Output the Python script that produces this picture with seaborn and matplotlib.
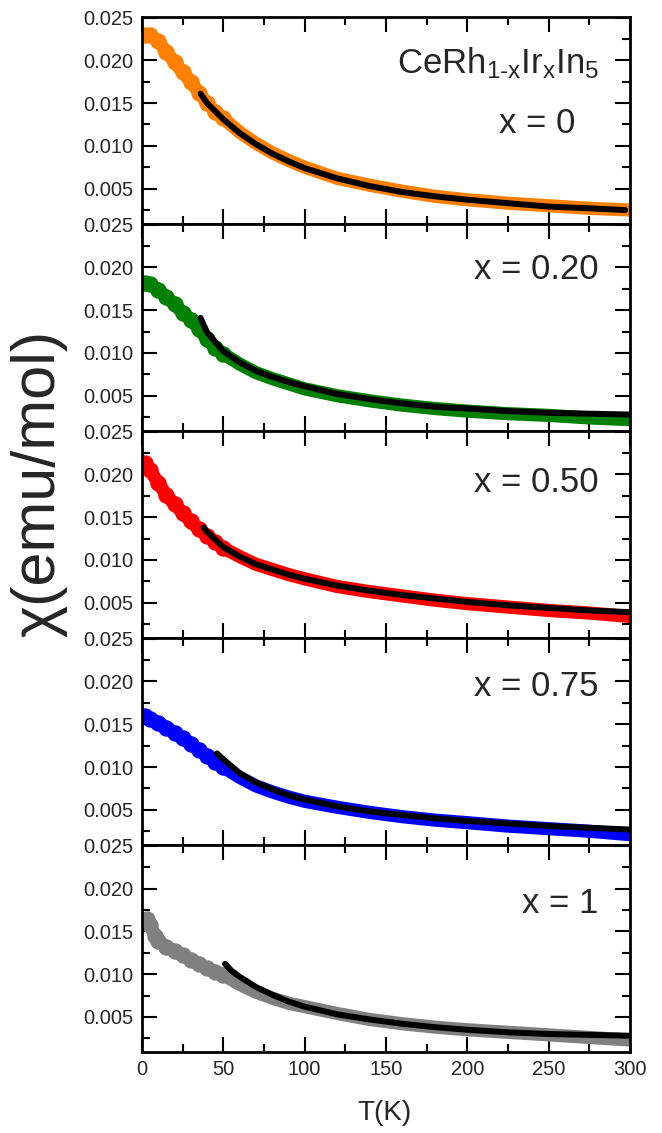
import numpy as np
import pandas as pd
import seaborn as sns
import matplotlib.pyplot as plt
from matplotlib.ticker import MultipleLocator, FormatStrFormatter

# measured chi(T) for each Ir content
T_data = [2, 5, 10, 15, 20, 25, 30, 35, 40, 45, 50, 60, 70, 80, 90, 100,
          120, 140, 160, 180, 200, 225, 250, 275, 300]
chi_x000 = [0.0230, 0.0229, 0.0222, 0.0210, 0.0198, 0.0186, 0.0175, 0.0162, 0.0150, 0.0140,
            0.0132, 0.0116, 0.0103, 0.0092, 0.0083, 0.0075, 0.0062, 0.0054, 0.0047, 0.0041,
            0.0037, 0.0033, 0.0030, 0.0027, 0.0025]
chi_x020 = [0.0182, 0.0180, 0.0174, 0.0165, 0.0157, 0.0147, 0.0139, 0.0128, 0.0116, 0.0106,
            0.0099, 0.0087, 0.0077, 0.0070, 0.0064, 0.0058, 0.0050, 0.0044, 0.0039, 0.0035,
            0.0032, 0.0029, 0.0027, 0.0024, 0.0022]
chi_x050 = [0.0213, 0.0205, 0.0190, 0.0176, 0.0165, 0.0155, 0.0145, 0.0136, 0.0128, 0.0121,
            0.0114, 0.0104, 0.0095, 0.0089, 0.0083, 0.0078, 0.0069, 0.0063, 0.0058, 0.0053,
            0.0049, 0.0045, 0.0041, 0.0038, 0.0034]
chi_x075 = [0.0160, 0.0156, 0.0152, 0.0146, 0.0140, 0.0134, 0.0127, 0.0120, 0.0113, 0.0106,
            0.0100, 0.0088, 0.0078, 0.0071, 0.0065, 0.0060, 0.0053, 0.0047, 0.0042, 0.0038,
            0.0035, 0.0031, 0.0028, 0.0025, 0.0021]
T_x100 = [1, 3, 5, 8, 10, 15, 20, 25, 30, 35, 40, 45, 50, 60, 70, 80, 90, 100,
          120, 140, 160, 180, 200, 225, 250, 275, 300]
chi_x100 = [0.0163, 0.0165, 0.0157, 0.0145, 0.0139, 0.0132, 0.0127, 0.0122, 0.0117, 0.0112,
            0.0107, 0.0103, 0.0099, 0.0088, 0.0079, 0.0072, 0.0066, 0.0062, 0.0054, 0.0047,
            0.0042, 0.0038, 0.0035, 0.0032, 0.0029, 0.0026, 0.0023]

# fits (black lines)
Tfit_x000 = [36, 40, 50, 60, 70, 80, 90, 100, 120, 140, 160, 180, 200, 225, 250, 275, 297]
fit_x000 = [0.0161, 0.0150, 0.0131, 0.0115, 0.0102, 0.0091, 0.0082, 0.0074, 0.0062, 0.0053,
            0.0046, 0.0041, 0.0037, 0.0033, 0.0029, 0.0027, 0.0025]
Tfit_x020 = [36, 40, 50, 60, 70, 80, 90, 100, 120, 140, 160, 180, 200, 225, 250, 275, 300]
fit_x020 = [0.0141, 0.0124, 0.0102, 0.0089, 0.0079, 0.0072, 0.0066, 0.0061, 0.0052, 0.0046,
            0.0041, 0.0037, 0.0035, 0.0032, 0.0030, 0.0029, 0.0028]
Tfit_x050 = [38, 40, 50, 60, 70, 80, 90, 100, 120, 140, 160, 180, 200, 225, 250, 275, 300]
fit_x050 = [0.0138, 0.0133, 0.0115, 0.0104, 0.0095, 0.0089, 0.0083, 0.0078, 0.0070, 0.0064,
            0.0059, 0.0055, 0.0051, 0.0047, 0.0044, 0.0041, 0.0039]
Tfit_x075 = [46, 50, 60, 70, 80, 90, 100, 120, 140, 160, 180, 200, 225, 250, 275, 300]
fit_x075 = [0.0116, 0.0109, 0.0093, 0.0082, 0.0074, 0.0067, 0.0062, 0.0054, 0.0048, 0.0044,
            0.0040, 0.0037, 0.0034, 0.0031, 0.0029, 0.0027]
Tfit_x100 = [51, 55, 60, 70, 80, 90, 100, 120, 140, 160, 180, 200, 225, 250, 275, 300]
fit_x100 = [0.0112, 0.0104, 0.0097, 0.0085, 0.0076, 0.0068, 0.0062, 0.0053, 0.0047, 0.0042,
            0.0038, 0.0035, 0.0032, 0.0030, 0.0029, 0.0028]

labels = ['x = 0', 'x = 0.20', 'x = 0.50', 'x = 0.75', 'x = 1']
colors = ['#FF8000', '#008000', '#FF0000', '#0000FF', '#808080']

panels = [
    (T_data, chi_x000, Tfit_x000, fit_x000),
    (T_data, chi_x020, Tfit_x020, fit_x020),
    (T_data, chi_x050, Tfit_x050, fit_x050),
    (T_data, chi_x075, Tfit_x075, fit_x075),
    (T_x100, chi_x100, Tfit_x100, fit_x100),
]
# label position (axes fraction)
label_x = [0.887, 0.935, 0.935, 0.935, 0.935]
label_y = [1 - 107 / 207, 1 - 46 / 207, 1 - 52 / 207, 1 - 49 / 207, 1 - 59 / 207]

sns.set_theme(style='ticks')
plt.rcParams['font.family'] = ['Liberation Sans', 'DejaVu Sans']
plt.rcParams['mathtext.fontset'] = 'custom'
plt.rcParams['mathtext.rm'] = 'Liberation Sans'
plt.rcParams['mathtext.it'] = 'Liberation Sans'

fig, axes = plt.subplots(5, 1, figsize=(6.62, 11.33), dpi=100, sharex=True)
fig.subplots_adjust(left=0.2145, right=0.9517, top=0.9853, bottom=0.0715, hspace=0)

for i, ax in enumerate(axes):
    T, chi, Tf, chif = panels[i]
    d = pd.DataFrame({'T': T, 'chi': chi})
    f = pd.DataFrame({'T': Tf, 'chi': chif})
    # data as a thick band, big dots at low T where the points are dense
    sns.lineplot(data=d, x='T', y='chi', ax=ax, color=colors[i], lw=9.5,
                 sort=False, solid_capstyle='round', solid_joinstyle='round')
    sns.scatterplot(data=d[d['T'] <= 50], x='T', y='chi', ax=ax, color=colors[i],
                    s=140, linewidth=0, zorder=3)
    sns.lineplot(data=f, x='T', y='chi', ax=ax, color='black', lw=4.3,
                 sort=False, solid_capstyle='round', zorder=4)
    ax.set_xlim(0, 300)
    ax.set_ylim(0.0009, 0.0251)
    ax.xaxis.set_major_locator(MultipleLocator(50))
    ax.xaxis.set_minor_locator(MultipleLocator(25))
    ax.yaxis.set_major_locator(MultipleLocator(0.005))
    ax.yaxis.set_minor_locator(MultipleLocator(0.0025))
    ax.yaxis.set_major_formatter(FormatStrFormatter('%.3f'))
    ax.tick_params(which='both', direction='in', top=True, right=True,
                   width=1.5, labelsize=14.5, color='black')
    ax.tick_params(which='major', length=10.5, pad=6)
    ax.tick_params(which='minor', length=6)
    for s in ax.spines.values():
        s.set_linewidth(2)
        s.set_color('black')
        s.set_zorder(5)
    ax.set_xlabel('')
    ax.set_ylabel('')
    ax.text(label_x[i], label_y[i], labels[i], transform=ax.transAxes,
            ha='right', va='center', fontsize=25)

axes[0].text(0.937, 1 - 46 / 207, r'CeRh$_{\mathrm{1\text{-}x}}$Ir$_\mathrm{x}$In$_\mathrm{5}$',
             transform=axes[0].transAxes, ha='right', va='center', fontsize=25)

fig.text(0.058, 0.573, 'χ(emu/mol)', rotation=90, ha='center', va='center', fontsize=44)
fig.text(0.5815, 0.018, 'T(K)', ha='center', va='center', fontsize=20)

plt.savefig('out.png', dpi=100)
